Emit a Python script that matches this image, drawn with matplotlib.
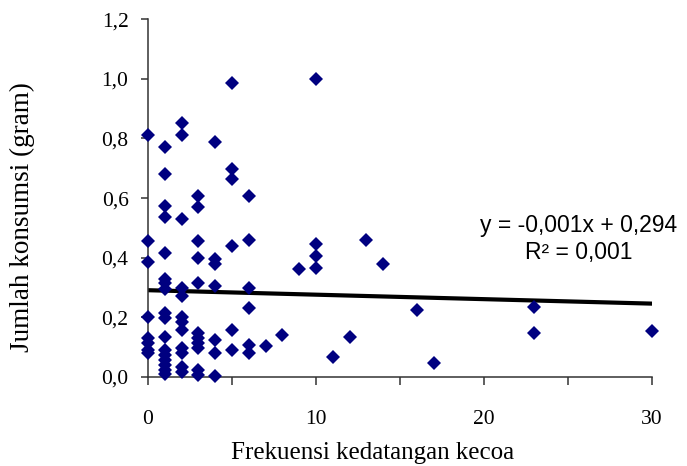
import matplotlib
matplotlib.use("Agg")
import matplotlib.pyplot as plt
import numpy as np

# frekuensi kedatangan kecoa (x) dan jumlah konsumsi (gram) (y)
freq_0 = [0.81, 0.455, 0.387, 0.20, 0.13, 0.115, 0.09, 0.08]
freq_1 = [0.77, 0.68, 0.575, 0.535, 0.415, 0.33, 0.315, 0.295, 0.215, 0.198,
          0.134, 0.09, 0.075, 0.058, 0.04, 0.025, 0.01]
freq_2 = [0.85, 0.81, 0.53, 0.30, 0.27, 0.20, 0.185, 0.157, 0.097, 0.08, 0.034, 0.017]
freq_3 = [0.607, 0.57, 0.456, 0.40, 0.315, 0.147, 0.13, 0.114, 0.097, 0.023, 0.007]
freq_4 = [0.788, 0.395, 0.38, 0.305, 0.124, 0.08, 0.003]
freq_5 = [0.986, 0.697, 0.664, 0.44, 0.157, 0.09]
freq_6 = [0.607, 0.46, 0.30, 0.23, 0.107, 0.08]
freq_other_x = [7, 8, 9, 10, 10, 10, 10, 11, 12, 13, 14, 16, 17, 23, 23, 30]
freq_other_y = [0.104, 0.14, 0.362, 1.0, 0.446, 0.405, 0.365, 0.066, 0.134,
                0.46, 0.379, 0.225, 0.048, 0.235, 0.147, 0.155]

trend_intercept = 0.291
trend_slope = -0.0015
trend_x = [0, 30]
equation_text = "y = -0,001x + 0,294\nR² = 0,001"

y_ticks = [0.0, 0.2, 0.4, 0.6, 0.8, 1.0, 1.2]
y_ticklabels = ["0,0", "0,2", "0,4", "0,6", "0,8", "1,0", "1,2"]
x_ticks = [0, 10, 20, 30]
x_minor = [5, 15, 25]

xs, ys = [], []
for k, vals in enumerate([freq_0, freq_1, freq_2, freq_3, freq_4, freq_5, freq_6]):
    xs += [k] * len(vals)
    ys += vals
xs += freq_other_x
ys += freq_other_y

fig = plt.figure(figsize=(6.87, 4.66), dpi=100)
ax = fig.add_axes([0.2154, 0.191, 0.7336, 0.768])

ax.plot(xs, ys, linestyle="none", marker="D", markersize=7, color="#000080",
        markeredgewidth=0, clip_on=False, zorder=3)
tx = np.array(trend_x, dtype=float)
ax.plot(tx, trend_intercept + trend_slope * tx, color="black", linewidth=3, zorder=2)

ax.set_xlim(0, 30)
ax.set_ylim(0, 1.2)
for side in ("top", "right"):
    ax.spines[side].set_visible(False)
for side in ("left", "bottom"):
    ax.spines[side].set_color("#333333")
    ax.spines[side].set_linewidth(1.1)

ax.set_yticks(y_ticks)
ax.set_yticklabels(y_ticklabels)
ax.set_xticks(x_ticks)
ax.set_xticks(x_minor, minor=True)
ax.tick_params(axis="both", which="both", direction="out", color="#333333", width=1.1)
ax.tick_params(axis="y", length=5, pad=9)
ax.tick_params(axis="x", which="both", length=6, pad=18)
for lab in ax.get_xticklabels() + ax.get_yticklabels():
    lab.set_family("Liberation Serif")
    lab.set_fontsize(15.5)

ax.set_xlabel("Frekuensi kedatangan kecoa", family="Liberation Serif", fontsize=18,
              va="center")
ax.set_ylabel("Jumlah konsumsi (gram)", family="Liberation Serif", fontsize=19.5,
              va="center")
ax.xaxis.set_label_coords((373 - 148) / 504, (377 - 453) / 358)
ax.yaxis.set_label_coords((22 - 148) / 504, (377 - 217) / 358)

ax.text(579, 466 - 239, equation_text, transform=None, ha="center", va="center",
        multialignment="center", family="Liberation Sans", fontsize=16.5,
        linespacing=1.2)

fig.savefig("out.png", dpi=100)
